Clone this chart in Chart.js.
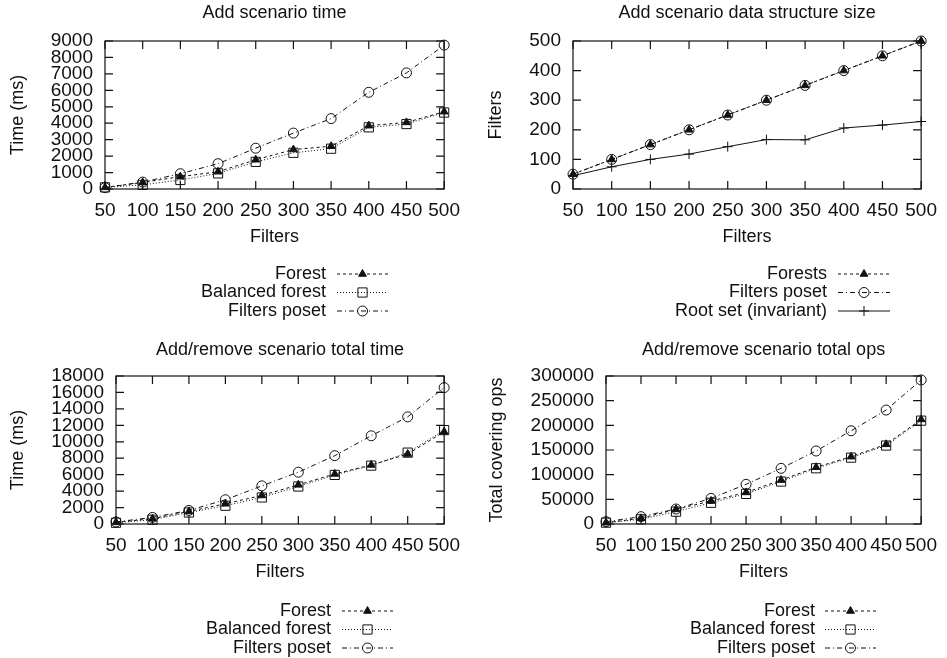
<!DOCTYPE html>
<html lang="en">
<head>
<meta charset="UTF-8">
<title>Covering benchmarks</title>
<script src="https://cdn.jsdelivr.net/npm/chart.js"></script>
<style>
  body { margin: 0; background: #fff; }
  canvas { position: absolute; }
  #c1 { left: 0; top: 0; }
  #c2 { left: 470px; top: 0; }
  #c3 { left: 0; top: 330px; }
  #c4 { left: 470px; top: 330px; }
</style>
</head>
<body>
<canvas id="c1" width="470" height="330"></canvas>
<canvas id="c2" width="477" height="330"></canvas>
<canvas id="c3" width="470" height="328"></canvas>
<canvas id="c4" width="477" height="328"></canvas>
<script>
// x values shared by all four plots
const filters = [50, 100, 150, 200, 250, 300, 350, 400, 450, 500];
const xTicks = [50, 100, 150, 200, 250, 300, 350, 400, 450, 500];

// Add scenario time (ms)
const addTimeForest   = [100, 400, 750, 1050, 1780, 2400, 2600, 3850, 4050, 4700];
const addTimeBalanced = [100, 250, 550, 950, 1650, 2200, 2450, 3750, 3950, 4650];
const addTimePoset    = [80, 420, 930, 1540, 2480, 3400, 4280, 5880, 7060, 8750];
const addTimeTicks = [0, 1000, 2000, 3000, 4000, 5000, 6000, 7000, 8000, 9000];

// Add scenario data structure size
const sizeForests = [50, 100, 150, 200, 250, 300, 350, 400, 450, 500];
const sizePoset   = [50, 100, 150, 200, 250, 300, 350, 400, 450, 500];
const sizeRoot    = [45, 75, 100, 118, 143, 167, 166, 206, 216, 228];
const sizeTicks = [0, 100, 200, 300, 400, 500];

// Add/remove scenario total time (ms)
const totTimeForest   = [200, 650, 1530, 2460, 3470, 4760, 6090, 7180, 8510, 11220];
const totTimeBalanced = [150, 520, 1400, 2220, 3230, 4560, 5970, 7100, 8680, 11420];
const totTimePoset    = [250, 800, 1650, 2950, 4640, 6300, 8310, 10730, 13030, 16590];
const totTimeTicks = [0, 2000, 4000, 6000, 8000, 10000, 12000, 14000, 16000, 18000];

// Add/remove scenario total covering ops
const opsForest   = [2700, 11500, 29700, 46600, 64000, 89000, 115000, 136500, 161500, 212000];
const opsBalanced = [2700, 9500, 25000, 43000, 61000, 86000, 113000, 134500, 159000, 209500];
const opsPoset    = [4700, 14900, 30400, 52000, 80400, 112800, 148000, 189000, 231000, 292000];
const opsTicks = [0, 50000, 100000, 150000, 200000, 250000, 300000];

const ink = '#111';
const family = '"Liberation Sans", Arial, Helvetica, sans-serif';

const styles = {
  forest:   { borderDash: [3, 3], pointStyle: 'triangle', pointRadius: 4.5, pointBackgroundColor: ink },
  balanced: { borderDash: [1, 2], pointStyle: 'rect', pointRadius: 6.5, pointBackgroundColor: 'rgba(0,0,0,0)' },
  poset:    { borderDash: [5, 3, 1, 3], pointStyle: 'circle', pointRadius: 5, pointBackgroundColor: 'rgba(0,0,0,0)' },
  root:     { borderDash: [], pointStyle: 'cross', pointRadius: 5, pointBackgroundColor: ink }
};

function series(label, values, style) {
  return Object.assign({
    label: label,
    data: filters.map((f, i) => ({ x: f, y: values[i] })),
    borderColor: ink,
    borderWidth: 1,
    pointBorderColor: ink,
    pointBorderWidth: 1,
    tension: 0,
    fill: false,
    clip: false
  }, styles[style]);
}

// gnuplot style frame with inward ticks on all four sides
const framePlugin = {
  id: 'gnuFrame',
  beforeDatasetsDraw(chart) {
    const { ctx, chartArea: a } = chart;
    const len = 8;
    ctx.save();
    ctx.strokeStyle = ink;
    ctx.lineWidth = 1.2;
    ctx.beginPath();
    chart.scales.x.ticks.forEach(t => {
      const px = chart.scales.x.getPixelForValue(t.value);
      ctx.moveTo(px, a.bottom); ctx.lineTo(px, a.bottom - len);
      ctx.moveTo(px, a.top); ctx.lineTo(px, a.top + len);
    });
    chart.scales.y.ticks.forEach(t => {
      const py = chart.scales.y.getPixelForValue(t.value);
      ctx.moveTo(a.left, py); ctx.lineTo(a.left + len, py);
      ctx.moveTo(a.right, py); ctx.lineTo(a.right - len, py);
    });
    ctx.stroke();
    ctx.strokeRect(a.left, a.top, a.right - a.left, a.bottom - a.top);
    ctx.restore();
  }
};

function marker(ctx, style, r, x, y, fill) {
  ctx.beginPath();
  if (style === 'triangle') {
    ctx.moveTo(x, y - r);
    ctx.lineTo(x + r * 0.866, y + r / 2);
    ctx.lineTo(x - r * 0.866, y + r / 2);
    ctx.closePath();
  } else if (style === 'rect') {
    const s = r * Math.SQRT1_2;
    ctx.rect(x - s, y - s, 2 * s, 2 * s);
  } else if (style === 'circle') {
    ctx.arc(x, y, r, 0, Math.PI * 2);
  } else if (style === 'cross') {
    ctx.moveTo(x - r, y); ctx.lineTo(x + r, y);
    ctx.moveTo(x, y - r); ctx.lineTo(x, y + r);
  }
  if (style !== 'cross') { ctx.fillStyle = fill; ctx.fill(); }
  ctx.stroke();
}

// key below each plot: right aligned text, then line sample with its marker
const legendPlugin = {
  id: 'gnuLegend',
  afterDraw(chart, args, opts) {
    const ctx = chart.ctx;
    chart.data.datasets.forEach((ds, i) => {
      const y = opts.rowY + i * opts.rowGap;
      ctx.save();
      ctx.font = '18px ' + family;
      ctx.fillStyle = ink;
      ctx.textAlign = 'right';
      ctx.textBaseline = 'middle';
      ctx.fillText(ds.label, opts.textRight, y);
      ctx.strokeStyle = ink;
      ctx.lineWidth = 1;
      ctx.setLineDash(ds.borderDash);
      ctx.beginPath();
      ctx.moveTo(opts.lineStart, y);
      ctx.lineTo(opts.lineEnd, y);
      ctx.stroke();
      ctx.setLineDash([]);
      marker(ctx, ds.pointStyle, ds.pointRadius, (opts.lineStart + opts.lineEnd) / 2, y, ds.pointBackgroundColor);
      ctx.restore();
    });
  }
};

function makeChart(id, cfg) {
  const font = { family: family, size: 18 };
  const tickFont = { family: family, size: 19 };
  const plain = v => String(v);
  return new Chart(document.getElementById(id), {
    type: 'line',
    data: { datasets: cfg.datasets },
    options: {
      responsive: false,
      animation: false,
      events: [],
      layout: { autoPadding: false, padding: { left: 0, top: 0, right: cfg.padRight, bottom: cfg.padBottom } },
      plugins: {
        legend: { display: false },
        tooltip: { enabled: false },
        title: {
          display: true, text: cfg.title, color: ink, fullSize: false,
          font: { family: family, size: 18, weight: 'normal' },
          padding: { top: cfg.titleTop, bottom: cfg.titleBottom }
        },
        gnuLegend: cfg.legend
      },
      scales: {
        x: {
          type: 'linear', min: 50, max: 500,
          afterBuildTicks: s => { s.ticks = xTicks.map(v => ({ value: v })); },
          afterFit: s => { s.height = 60; },
          grid: { display: false, drawTicks: false },
          border: { display: false },
          ticks: { color: ink, font: tickFont, padding: 10, autoSkip: false, maxRotation: 0, callback: plain },
          title: { display: true, text: 'Filters', color: ink, font: font, padding: { top: 0, bottom: 1.2 } }
        },
        y: {
          type: 'linear', min: 0, max: cfg.yTicks[cfg.yTicks.length - 1],
          afterBuildTicks: s => { s.ticks = cfg.yTicks.map(v => ({ value: v })); },
          afterFit: s => { s.width = cfg.axisW; },
          grid: { display: false, drawTicks: false },
          border: { display: false },
          ticks: { color: ink, font: tickFont, padding: 12, autoSkip: false, callback: plain },
          title: { display: true, text: cfg.yTitle, color: ink, font: font, padding: { top: cfg.yTitlePad, bottom: 0 } }
        }
      }
    },
    plugins: [framePlugin, legendPlugin]
  });
}

makeChart('c1', {
  title: 'Add scenario time', yTitle: 'Time (ms)', yTicks: addTimeTicks,
  axisW: 105, padRight: 24, padBottom: 81, titleTop: 2.2, titleBottom: 17.2, yTitlePad: 7.2,
  legend: { textRight: 326, lineStart: 337, lineEnd: 388, rowY: 274, rowGap: 18.5 },
  datasets: [
    series('Forest', addTimeForest, 'forest'),
    series('Balanced forest', addTimeBalanced, 'balanced'),
    series('Filters poset', addTimePoset, 'poset')
  ]
});

makeChart('c2', {
  title: 'Add scenario data structure size', yTitle: 'Filters', yTicks: sizeTicks,
  axisW: 103, padRight: 22, padBottom: 81, titleTop: 2.2, titleBottom: 17.2, yTitlePad: 15,
  legend: { textRight: 357, lineStart: 368, lineEnd: 420, rowY: 274, rowGap: 18.5 },
  datasets: [
    series('Forests', sizeForests, 'forest'),
    series('Filters poset', sizePoset, 'poset'),
    series('Root set (invariant)', sizeRoot, 'root')
  ]
});

makeChart('c3', {
  title: 'Add/remove scenario total time', yTitle: 'Time (ms)', yTicks: totTimeTicks,
  axisW: 116, padRight: 24, padBottom: 74, titleTop: 9.2, titleBottom: 15.2, yTitlePad: 7.2,
  legend: { textRight: 331, lineStart: 342, lineEnd: 393, rowY: 281, rowGap: 18.5 },
  datasets: [
    series('Forest', totTimeForest, 'forest'),
    series('Balanced forest', totTimeBalanced, 'balanced'),
    series('Filters poset', totTimePoset, 'poset')
  ]
});

makeChart('c4', {
  title: 'Add/remove scenario total ops', yTitle: 'Total covering ops', yTicks: opsTicks,
  axisW: 136, padRight: 23, padBottom: 74, titleTop: 9.2, titleBottom: 15.2, yTitlePad: 16,
  legend: { textRight: 345, lineStart: 355, lineEnd: 406, rowY: 281, rowGap: 18.5 },
  datasets: [
    series('Forest', opsForest, 'forest'),
    series('Balanced forest', opsBalanced, 'balanced'),
    series('Filters poset', opsPoset, 'poset')
  ]
});
</script>
</body>
</html>
